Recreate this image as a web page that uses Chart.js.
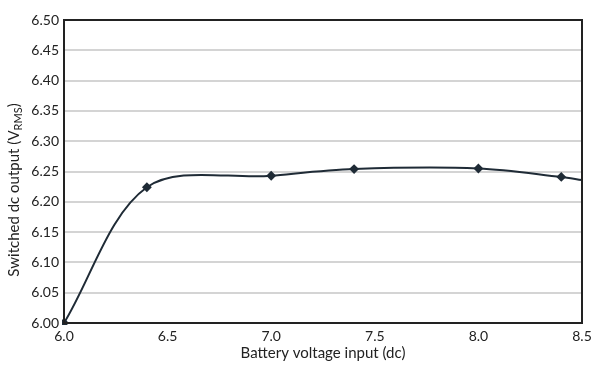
<!DOCTYPE html>
<html>
<head>
<meta charset="utf-8">
<script src="https://cdn.jsdelivr.net/npm/chart.js@4"></script>
<style>
  html, body { margin: 0; padding: 0; background: #fff; }
  #wrap { width: 600px; height: 368px; }
</style>
</head>
<body>
<div id="wrap"><canvas id="chart"></canvas></div>
<script>
// Data
const batteryVolts = [6.0, 6.4, 7.0, 7.4, 8.0, 8.4, 8.5];
const outputVolts = [6.0, 6.224, 6.243, 6.254, 6.255, 6.241, 6.236];
const markerShown = [true, true, true, true, true, true, false];

const xTitle = "Battery voltage input (dc)";
const yTitle = "Switched dc output (V";
const ySub = "RMS";

const fontFamily = "Lato, 'Open Sans', sans-serif";
const lineColor = "#1f2b36";

// y title with subscript, drawn by hand
const yTitlePlugin = {
  id: "yTitle",
  afterDraw(chart) {
    const ctx = chart.ctx;
    ctx.save();
    ctx.translate(14, 190);
    ctx.rotate(-Math.PI / 2);
    ctx.fillStyle = "#222";
    ctx.textBaseline = "middle";
    ctx.font = "15px " + fontFamily;
    const w1 = ctx.measureText(yTitle).width;
    ctx.font = "11px " + fontFamily;
    const w2 = ctx.measureText(ySub).width;
    ctx.font = "15px " + fontFamily;
    const w3 = ctx.measureText(")").width;
    let x = -(w1 + w2 + w3) / 2;
    ctx.textAlign = "left";
    ctx.fillText(yTitle, x, 0);
    x += w1;
    ctx.font = "11px " + fontFamily;
    ctx.fillText(ySub, x, 4);
    x += w2;
    ctx.font = "15px " + fontFamily;
    ctx.fillText(")", x, 0);
    ctx.restore();
  }
};

// frame around the plot area
const framePlugin = {
  id: "frame",
  afterDatasetsDraw(chart) {
    const ctx = chart.ctx;
    const a = chart.chartArea;
    ctx.save();
    ctx.strokeStyle = "#222";
    ctx.lineWidth = 2;
    ctx.strokeRect(a.left, a.top, a.right - a.left, a.bottom - a.top);
    ctx.restore();
  }
};

new Chart(document.getElementById("chart"), {
  type: "line",
  data: {
    datasets: [{
      data: batteryVolts.map((v, i) => ({ x: v, y: outputVolts[i] })),
      borderColor: lineColor,
      borderWidth: 2,
      tension: 0.33,
      pointStyle: "rectRot",
      pointRadius: markerShown.map(s => s ? 3.5 : 0),
      pointBackgroundColor: lineColor,
      pointBorderColor: lineColor,
      clip: 2,
    }]
  },
  options: {
    responsive: true,
    maintainAspectRatio: false,
    animation: false,
    layout: { padding: { top: 20, right: 18, left: 0, bottom: 6 } },
    plugins: { legend: { display: false }, tooltip: { enabled: false } },
    scales: {
      x: {
        type: "linear",
        min: 6.0,
        max: 8.5,
        ticks: {
          stepSize: 0.5,
          callback: v => v.toFixed(1),
          color: "#222",
          font: { family: fontFamily, size: 14 },
          padding: 5,
          maxRotation: 0,
        },
        grid: { display: false, drawTicks: false },
        border: { color: "#222", width: 2 },
        title: {
          display: true,
          text: xTitle,
          color: "#222",
          font: { family: fontFamily, size: 15 },
          padding: { top: 0, bottom: 0 },
        },
        afterFit: s => { s.height = 39; },
      },
      y: {
        min: 6.0,
        max: 6.5,
        ticks: {
          stepSize: 0.05,
          callback: v => v.toFixed(2),
          color: "#222",
          font: { family: fontFamily, size: 14 },
          padding: 5,
        },
        grid: { color: "#d4d4d4", lineWidth: 2, drawTicks: false },
        border: { color: "#222", width: 2 },
        afterFit: s => { s.width = 64; },
      }
    }
  },
  plugins: [yTitlePlugin, framePlugin]
});
</script>
</body>
</html>
